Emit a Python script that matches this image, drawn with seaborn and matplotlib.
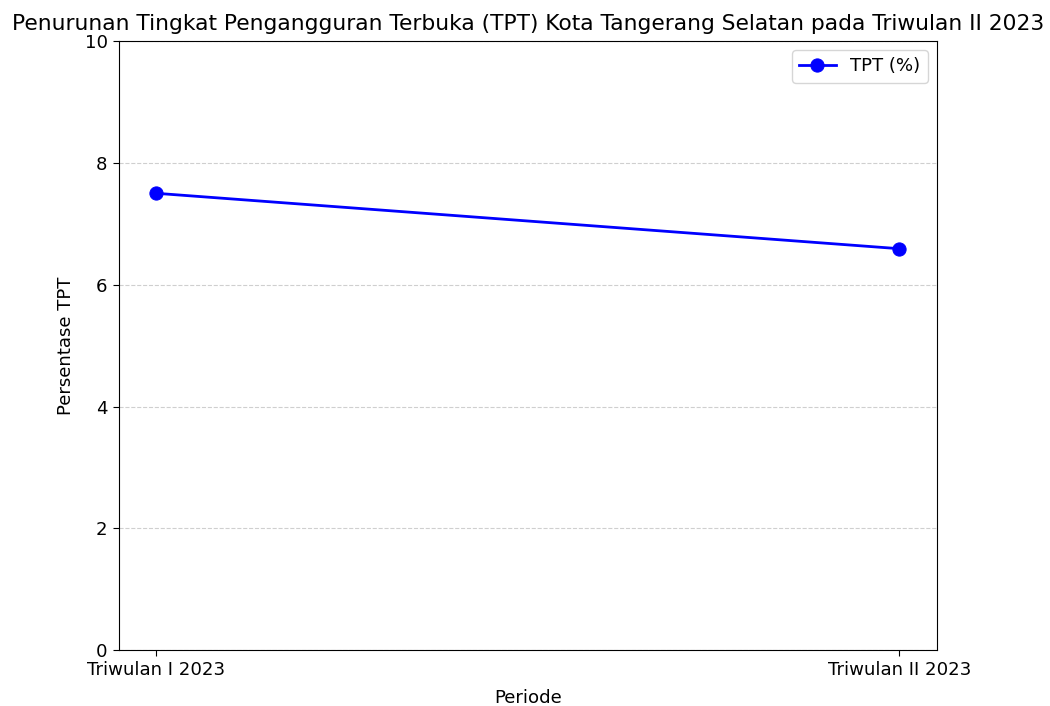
import matplotlib
matplotlib.use('Agg')
import matplotlib.pyplot as plt
import seaborn as sns
import pandas as pd

# data
periode = ['Triwulan I 2023', 'Triwulan II 2023']
tpt = [7.5, 6.59]

df = pd.DataFrame({'Periode': periode, 'TPT': tpt})

fig, ax = plt.subplots(figsize=(10.5, 7.06), dpi=100)
sns.lineplot(data=df, x='Periode', y='TPT', marker='o', color='blue', linewidth=2,
             markersize=9.5, markeredgecolor='blue', label='TPT (%)', ax=ax)

ax.set_title('Penurunan Tingkat Pengangguran Terbuka (TPT) Kota Tangerang Selatan pada Triwulan II 2023',
             fontsize=15.7, pad=8)
ax.set_xlabel('Periode', fontsize=13.1, labelpad=7)
ax.set_ylabel('Persentase TPT', fontsize=13.1, labelpad=7)
ax.set_ylim(0, 10)
ax.tick_params(labelsize=13.1, length=4.5)
ax.grid(axis='y', linestyle='--', alpha=0.6)
ax.legend(loc='upper right', fontsize=13.1)

fig.subplots_adjust(left=0.113, right=0.892, top=0.942, bottom=0.079)
fig.savefig('out.png')
